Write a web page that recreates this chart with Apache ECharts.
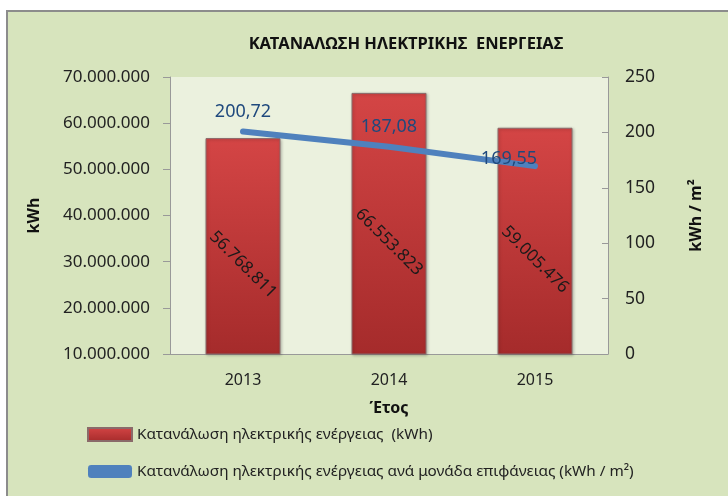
<!DOCTYPE html>
<html>
<head>
<meta charset="utf-8">
<script src="https://cdn.jsdelivr.net/npm/echarts@6/dist/echarts.min.js"></script>
<style>
  html, body { margin: 0; padding: 0; background: #fff; }
  #frame { position: absolute; left: 6px; top: 10px; width: 740px; height: 500px;
           background: #d7e4bd; border: 2px solid #8c8c8c; }
  #main { position: absolute; left: 0; top: 0; width: 728px; height: 496px; }
</style>
</head>
<body>
<div id="frame"></div>
<div id="main"></div>
<script>
// δεδομένα
var years = ['2013', '2014', '2015'];
var energyKWh = [56768811, 66553823, 59005476];
var energyPerM2 = [200.72, 187.08, 169.55];
var leftTicks = [10000000, 70000000, 10000000]; // min, max, interval
var rightTicks = [0, 250, 50];

var FONT = '"Noto Sans", sans-serif';

function dots(v) {
  return String(Math.round(v)).replace(/\B(?=(\d{3})+(?!\d))/g, '.');
}

// η τελευταία ετικέτα της γραμμής είναι λίγο πιο αριστερά/κάτω όπως στο Excel
var lineData = energyPerM2.map(function (v, i) {
  if (i === energyPerM2.length - 1) {
    return { value: v, label: { offset: [-26, 12] } };
  }
  return v;
});

var myChart = echarts.init(document.getElementById('main'));
myChart.setOption({
  animation: false,
  textStyle: { fontFamily: FONT },
  title: {
    text: 'ΚΑΤΑΝΑΛΩΣΗ ΗΛΕΚΤΡΙΚΗΣ  ΕΝΕΡΓΕΙΑΣ',
    left: 401, top: 31, textAlign: 'center',
    textStyle: { fontFamily: FONT, fontSize: 16.5, fontWeight: 'bold', color: '#111' }
  },
  legend: {
    orient: 'vertical', left: 82, top: 422, itemGap: 22,
    itemWidth: 44, itemHeight: 13,
    textStyle: { fontFamily: FONT, fontSize: 15.3, color: '#222' },
    data: [
      { name: 'Κατανάλωση ηλεκτρικής ενέργειας  (kWh)', icon: 'rect' },
      { name: 'Κατανάλωση ηλεκτρικής ενέργειας ανά μονάδα επιφάνειας (kWh / m²)', icon: 'roundRect' }
    ]
  },
  grid: {
    left: 170, right: 120, top: 77, bottom: 142,
    show: true, backgroundColor: '#ebf1de', borderWidth: 0
  },
  xAxis: {
    type: 'category', data: years,
    name: 'Έτος', nameLocation: 'middle', nameGap: 46,
    nameTextStyle: { fontFamily: FONT, fontSize: 16, fontWeight: 'bold', color: '#111' },
    axisLine: { lineStyle: { color: '#999', width: 1 } },
    axisTick: { show: false },
    axisLabel: { fontSize: 16, color: '#222', margin: 18 }
  },
  yAxis: [{
    type: 'value', min: leftTicks[0], max: leftTicks[1], interval: leftTicks[2],
    name: 'kWh', nameLocation: 'middle', nameGap: 128, nameRotate: 90,
    nameTextStyle: { fontFamily: FONT, fontSize: 16, fontWeight: 'bold', color: '#111' },
    axisLine: { show: true, lineStyle: { color: '#999' } },
    axisTick: { show: true, length: 7, lineStyle: { color: '#999' } },
    splitLine: { show: false },
    axisLabel: { fontSize: 17, color: '#222', margin: 20, formatter: dots }
  }, {
    type: 'value', min: rightTicks[0], max: rightTicks[1], interval: rightTicks[2],
    name: 'kWh / m²', nameLocation: 'middle', nameGap: 80, nameRotate: 90,
    nameTextStyle: { fontFamily: FONT, fontSize: 16, fontWeight: 'bold', color: '#111' },
    axisLine: { show: true, lineStyle: { color: '#999' } },
    axisTick: { show: true, inside: true, length: 6, lineStyle: { color: '#999' } },
    splitLine: { show: false },
    axisLabel: { fontSize: 17.5, color: '#222', margin: 17 }
  }],
  series: [{
    name: 'Κατανάλωση ηλεκτρικής ενέργειας  (kWh)',
    type: 'bar', yAxisIndex: 0, barWidth: 75,
    data: energyKWh,
    itemStyle: {
      color: new echarts.graphic.LinearGradient(0, 0, 0, 1, [
        { offset: 0, color: '#d44545' },
        { offset: 1, color: '#a52b2b' }
      ]),
      borderColor: '#8a6a6a', borderWidth: 1,
      shadowColor: 'rgba(0,0,0,0.25)', shadowBlur: 3, shadowOffsetX: 1, shadowOffsetY: 1
    },
    label: {
      // offset is in the rotated frame: [d, d] moves straight down on screen
      show: true, position: 'inside', rotate: -45, offset: [13, 13],
      fontSize: 17, color: '#1a1a1a', formatter: function (p) { return dots(p.value); }
    }
  }, {
    name: 'Κατανάλωση ηλεκτρικής ενέργειας ανά μονάδα επιφάνειας (kWh / m²)',
    type: 'line', yAxisIndex: 1,
    data: lineData,
    symbol: 'circle', symbolSize: 1,
    lineStyle: { color: '#4f81bd', width: 6, cap: 'round' },
    itemStyle: { color: '#4f81bd' },
    label: {
      show: true, position: 'top', distance: 10,
      fontSize: 18, color: '#1f497d',
      formatter: function (p) { return p.value.toFixed(2).replace('.', ','); }
    },
    z: 3
  }]
});
</script>
</body>
</html>
